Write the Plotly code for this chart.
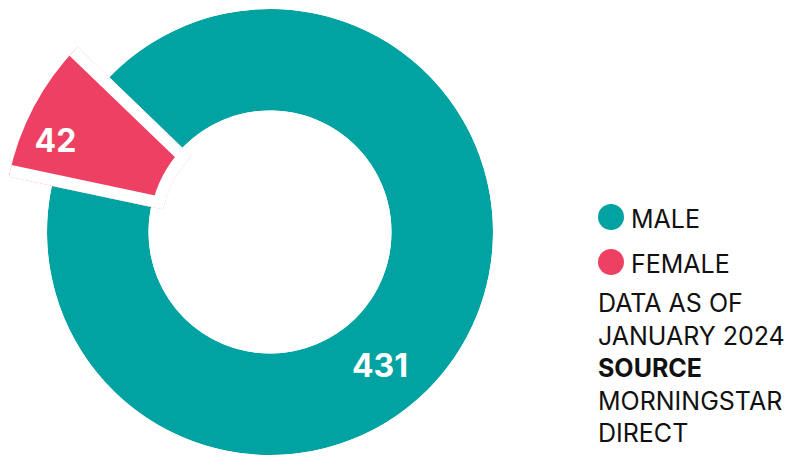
import math
import plotly.graph_objects as go

# ---------------- data ----------------
categories = ["MALE", "FEMALE"]
counts = [431, 42]
note_lines = ["DATA AS OF", "JANUARY 2024", "SOURCE", "MORNINGSTAR", "DIRECT"]

# ---------------- style / geometry ----------------
OFF = 8                      # default page margin of the html body
W, H = 794 - OFF, 457 - OFF  # figure size so it fills the window
CX, CY = 270 - OFF, 232 - OFF  # donut centre in figure px (from top-left)
R_OUT_M, R_IN_M = 223, 121.5  # male ring radii (px)
R_OUT_F, R_IN_F = 267, 121    # female (emphasised) ring radii (px)
GAP = 12                     # white inset on the female slice
START = 136.1                # screen angle where the female slice starts
TEAL = "#00A3A1"
RED = "#EE4062"
FONT = "Inter"


def px(x):
    return (x - OFF) / W


def py(y):
    return (H - (y - OFF)) / H


total = sum(counts)
deg = [c / total * 360 for c in counts]
fem0, fem1 = START, START + deg[1]
male0, male1 = fem1, START + 360


def sector_bbox(s0, s1):
    arc = s1 - s0
    a0 = s0 % 360
    a1 = a0 + arc
    ax0, ay0 = math.cos(math.radians(a0)), math.sin(math.radians(a0))
    ax1, ay1 = math.cos(math.radians(a1)), math.sin(math.radians(a1))
    if (a0 <= 90 <= a1) or (a0 > 90 and a1 >= 450):
        y1 = 1
    elif ay0 <= 0 and ay1 <= 0:
        y1 = 0
    else:
        y1 = max(ay0, ay1)
    if (a0 <= 180 <= a1) or (a0 > 180 and a1 >= 540):
        x0 = -1
    elif ax0 >= 0 and ax1 >= 0:
        x0 = 0
    else:
        x0 = min(ax0, ax1)
    if (a0 <= 270 <= a1) or (a0 > 270 and a1 >= 630):
        y0 = -1
    elif ay0 >= 0 and ay1 >= 0:
        y0 = 0
    else:
        y0 = min(ay0, ay1)
    if a1 >= 360:
        x1 = 1
    elif ax0 <= 0 and ax1 <= 0:
        x1 = 0
    else:
        x1 = max(ax0, ax1)
    return x0, y0, x1, y1


fig = go.Figure()

# male ring (full polar subplot)
fig.add_trace(go.Barpolar(
    r=[R_OUT_M - R_IN_M], base=[R_IN_M],
    theta=[(male0 + male1) / 2], width=[deg[0]],
    marker=dict(color=TEAL, line=dict(width=0)),
    name=categories[0], showlegend=False, hoverinfo="skip",
    subplot="polar",
))
fig.add_trace(go.Scatterpolar(
    r=[175.5], theta=[308.8], mode="text", text=[str(counts[0])],
    textfont=dict(family=FONT, size=32, color="white", weight="bold"),
    showlegend=False, hoverinfo="skip", subplot="polar",
))

# female slice (sector polar subplot, larger radius)
base_f = R_IN_F - GAP
fig.add_trace(go.Barpolar(
    r=[R_OUT_F + 3 * GAP - base_f], base=[base_f],
    theta=[(fem0 + fem1) / 2], width=[deg[1]],
    marker=dict(color=RED, line=dict(width=2 * GAP, color="white")),
    name=categories[1], showlegend=False, hoverinfo="skip",
    subplot="polar2",
))
fig.add_trace(go.Scatterpolar(
    r=[232], theta=[157.6], mode="text", text=[str(counts[1])],
    textfont=dict(family=FONT, size=32, color="white", weight="bold"),
    showlegend=False, hoverinfo="skip", subplot="polar2",
))

hidden_ang = dict(visible=False, showgrid=False, showline=False,
                  showticklabels=False, ticks="", rotation=0,
                  direction="counterclockwise")

# domains
dom1_x = [(CX - R_OUT_M) / W, (CX + R_OUT_M) / W]
dom1_y = [(H - (CY + R_OUT_M)) / H, (H - (CY - R_OUT_M)) / H]
dom1_x = [max(0, dom1_x[0]), min(1, dom1_x[1])]
dom1_y = [max(0, dom1_y[0]), min(1, dom1_y[1])]

bx0, by0, bx1, by1 = sector_bbox(fem0, fem1)
left = CX + R_OUT_F * bx0
right = CX + R_OUT_F * bx1
top = CY - R_OUT_F * by1
bottom = CY - R_OUT_F * by0
dom2_x = [left / W, right / W]
dom2_y = [(H - bottom) / H, (H - top) / H]

fig.update_layout(
    width=W, height=H, autosize=False,
    margin=dict(l=0, r=0, t=0, b=0),
    paper_bgcolor="white", plot_bgcolor="white",
    template="none",
    showlegend=False,
    polar=dict(
        domain=dict(x=dom1_x, y=dom1_y),
        bgcolor="rgba(0,0,0,0)",
        hole=R_IN_M / R_OUT_M,
        radialaxis=dict(visible=False, range=[R_IN_M, R_OUT_M], showgrid=False,
                        showline=False, showticklabels=False, ticks=""),
        angularaxis=hidden_ang,
    ),
    polar2=dict(
        domain=dict(x=dom2_x, y=dom2_y),
        sector=[fem0, fem1],
        bgcolor="rgba(0,0,0,0)",
        hole=base_f / R_OUT_F,
        radialaxis=dict(visible=False, range=[base_f, R_OUT_F], showgrid=False,
                        showline=False, showticklabels=False, ticks=""),
        angularaxis=hidden_ang,
    ),
)

# legend (dots + labels), positions in window px
leg_colors = [TEAL, RED]
leg_y = [217, 262]
for name, col, yy in zip(categories, leg_colors, leg_y):
    rr = 13
    fig.add_shape(type="circle", xref="paper", yref="paper",
                  x0=px(611 - rr), x1=px(611 + rr),
                  y0=py(yy + rr), y1=py(yy - rr),
                  fillcolor=col, line=dict(width=0))
    fig.add_annotation(x=px(629), y=py(yy + 2), xref="paper", yref="paper",
                       xanchor="left", yanchor="middle", showarrow=False,
                       text=name, font=dict(family=FONT, size=25, color="#111"))

note_text = "<br>".join(
    f"<b>{t}</b>" if t == "SOURCE" else t for t in note_lines
)
fig.add_annotation(x=px(596), y=py(368), xref="paper", yref="paper",
                   xanchor="left", yanchor="middle", align="left",
                   showarrow=False, text=note_text,
                   font=dict(family=FONT, size=25, color="#111"))

fig.write_html("out.html")
